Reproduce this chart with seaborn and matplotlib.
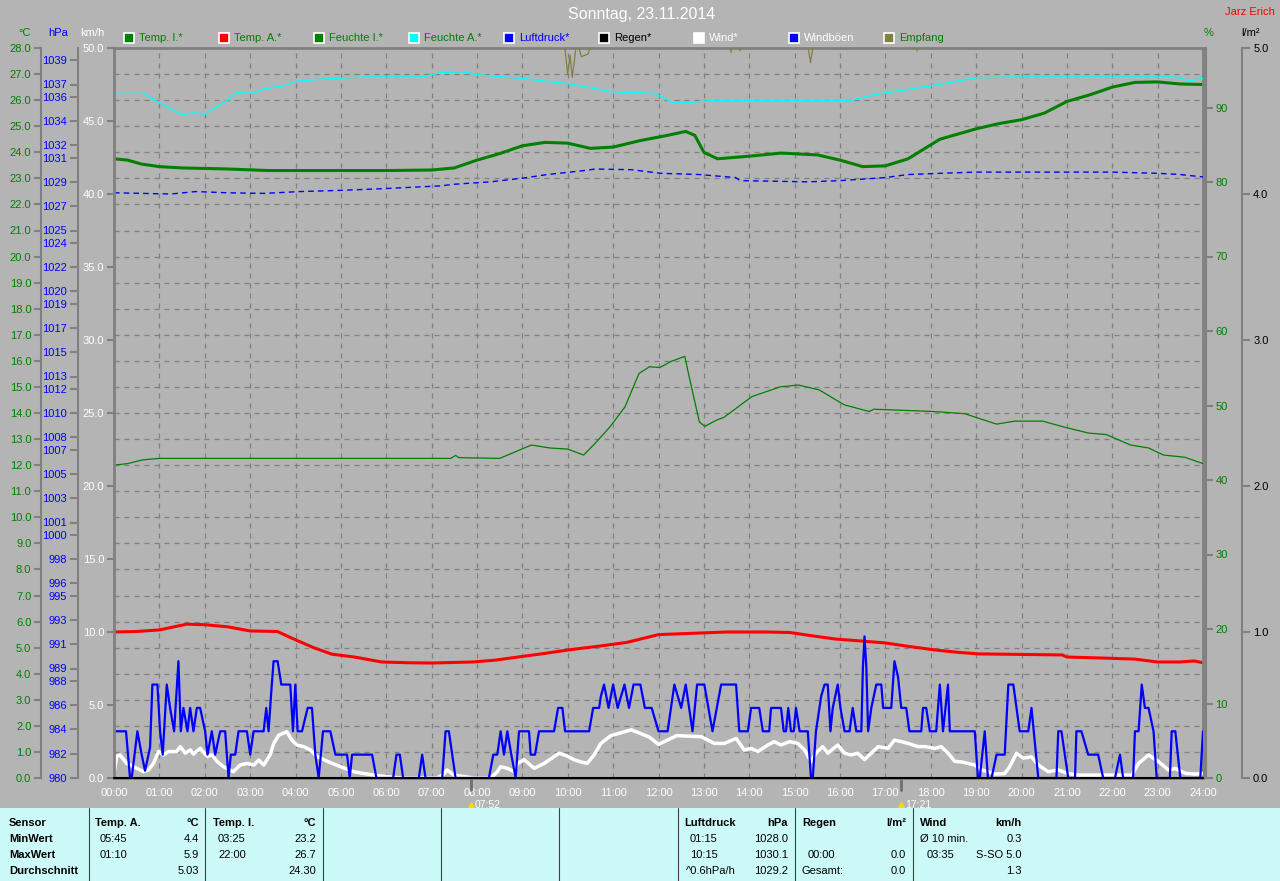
import matplotlib

matplotlib.use("Agg")
import matplotlib.pyplot as plt
import matplotlib.transforms as mtransforms
import seaborn as sns
from matplotlib.patches import Rectangle

W, H = 1280, 881
BG = "#b4b4b4"
TABLE_BG = "#ccfaf8"
GRID = "#808080"
GREEN = "#008000"
BLUE = "#0000ff"
RED = "#ff0000"
CYAN = "#00ffff"
OLIVE = "#808040"

HOURS = list(range(25))
HOUR_LABELS = [f"{h:02d}:00" for h in HOURS]

# Temp. I. (degC)
TEMP_I_T = [0, 0.3, 0.6, 1.0, 1.5, 2.5, 3.4, 4, 5, 6, 7, 7.5, 8, 8.5, 9.0, 9.5, 10.0, 10.5,
            11.0, 11.6, 12.2, 12.6, 12.8, 13.0, 13.3, 14.0, 14.7, 15.5, 16.0, 16.5, 17.0,
            17.5, 18.2, 19.0, 19.5, 20.0, 20.5, 21.0, 21.5, 22.0, 22.5, 23.0, 23.5, 24.0]
TEMP_I = [23.75, 23.7, 23.55, 23.45, 23.4, 23.36, 23.3, 23.3, 23.3, 23.3, 23.32, 23.4, 23.7,
          23.95, 24.25, 24.38, 24.35, 24.15, 24.2, 24.45, 24.65, 24.8, 24.65, 24.0, 23.75,
          23.85, 23.97, 23.9, 23.7, 23.45, 23.48, 23.75, 24.5, 24.9, 25.1, 25.25, 25.5, 25.95,
          26.2, 26.5, 26.68, 26.7, 26.62, 26.6]

# Temp. A. (degC)
TEMP_A_T = [0, 0.5, 1.0, 1.6, 2.0, 2.5, 3.0, 3.6, 4.0, 4.4, 4.8, 5.3, 5.9, 6.5, 7.0, 7.9, 8.4,
            8.9, 9.5, 10.0, 10.7, 11.3, 12.0, 12.9, 13.5, 14.4, 14.9, 15.4, 15.9, 16.5, 17.0,
            17.5, 18.1, 18.6, 19.05, 20.0, 20.9, 21.0, 21.8, 22.5, 23.0, 23.5, 23.8, 24.0]
TEMP_A = [5.6, 5.62, 5.68, 5.9, 5.88, 5.8, 5.64, 5.62, 5.3, 5.0, 4.75, 4.64, 4.45, 4.42, 4.41,
          4.45, 4.52, 4.64, 4.78, 4.91, 5.06, 5.2, 5.5, 5.56, 5.6, 5.6, 5.58, 5.45, 5.33, 5.25,
          5.18, 5.05, 4.91, 4.82, 4.76, 4.74, 4.72, 4.64, 4.6, 4.56, 4.45, 4.45, 4.49, 4.42]

# Feuchte I. (%)
HUM_I_T = [0, 0.3, 0.63, 1.0, 7.42, 7.53, 7.6, 8.5, 9.2, 9.6, 10.0, 10.35, 10.6, 10.94, 11.26,
           11.57, 11.8, 12.03, 12.27, 12.58, 12.66, 12.9, 13.02, 13.3, 13.44, 14.06, 14.68,
           15.08, 15.54, 16.09, 16.64, 16.75, 18.04, 18.75, 19.45, 19.85, 20.47, 20.94, 21.48,
           21.87, 22.4, 22.8, 23.13, 23.6, 24.0]
HUM_I = [42.0, 42.2, 42.7, 42.9, 42.9, 43.3, 43.0, 42.9, 44.7, 44.3, 44.15, 43.35, 44.9, 47.2,
         49.8, 54.3, 55.2, 55.1, 55.9, 56.6, 54.3, 47.8, 47.2, 48.1, 48.4, 51.2, 52.5, 52.75,
         52.1, 50.1, 49.2, 49.5, 49.2, 48.9, 47.5, 47.9, 47.9, 47.1, 46.3, 46.1, 44.7, 44.3,
         43.35, 43.05, 42.2]

# Feuchte A. (%)
HUM_A_T = [0, 0.65, 0.95, 1.3, 1.5, 1.75, 2.0, 2.2, 2.5, 2.7, 3.07, 3.3, 3.8, 4.0, 4.55, 5.5,
           6.8, 7.2, 7.7, 8.0, 9.0, 10.0, 11.0, 11.9, 12.27, 12.5, 13.1, 16.2, 16.75, 17.35,
           18.1, 19.0, 20.0, 23.4, 23.7, 24.0]
HUM_A = [91.9, 91.9, 90.8, 89.7, 89.0, 89.3, 89.1, 89.9, 91.0, 92.0, 91.9, 92.5, 93.0, 93.5,
         93.8, 94.1, 94.1, 94.7, 94.8, 94.4, 93.9, 93.2, 92.1, 91.9, 90.8, 90.6, 90.9, 90.9,
         91.7, 92.3, 93.0, 94.0, 94.1, 94.1, 93.6, 93.9]

# Luftdruck (hPa)
PRESS_T = [0, 1.25, 1.8, 2.5, 3.3, 4.1, 5.0, 6.0, 7.2, 7.5, 8.3, 9.0, 9.55, 10.3, 10.6, 11.4,
           12.05, 12.9, 13.7, 13.8, 15.3, 16.0, 17.0, 17.5, 18.2, 19.0, 20.0, 21.0, 22.0, 23.0,
           23.5, 24.0]
PRESS = [1028.1, 1028.0, 1028.2, 1028.1, 1028.05, 1028.2, 1028.3, 1028.45, 1028.67, 1028.8,
         1029.0, 1029.3, 1029.6, 1029.9, 1030.05, 1030.0, 1029.7, 1029.6, 1029.35, 1029.1,
         1029.0, 1029.1, 1029.35, 1029.6, 1029.7, 1029.8, 1029.8, 1029.8, 1029.8, 1029.7,
         1029.6, 1029.4]

# Regen (l/m2)
RAIN_T = [0, 24]
RAIN = [0.0, 0.0]

# Wind (km/h)
WIND_T = [0, 0.06, 0.13, 0.28, 0.43, 0.65, 0.76, 0.87, 0.98, 1.09, 1.2, 1.38, 1.46, 1.57, 1.68,
          1.75, 1.9, 2.05, 2.16, 2.27, 2.41, 2.63, 2.78, 2.93, 3.08, 3.19, 3.3, 3.44, 3.52, 3.63,
          3.81, 3.92, 4.03, 4.18, 4.33, 4.47, 4.7, 4.99, 5.28, 5.58, 5.87, 6.31, 7.12, 7.27,
          7.34, 7.49, 7.71, 7.93, 8.3, 8.45, 8.52, 8.67, 8.82, 8.89, 9.04, 9.26, 9.48, 9.81,
          10.0, 10.14, 10.29, 10.43, 10.58, 10.73, 10.95, 11.4, 11.8, 12.0, 12.4, 12.94, 13.23,
          13.45, 13.71, 13.89, 14.04, 14.19, 14.41, 14.55, 14.7, 14.89, 15.07, 15.22, 15.36,
          15.47, 15.62, 15.73, 15.95, 16.1, 16.25, 16.39, 16.54, 16.69, 16.84, 17.06, 17.2,
          17.35, 17.5, 17.72, 17.87, 18.09, 18.23, 18.38, 18.53, 18.68, 18.82, 18.97, 19.12,
          19.26, 19.41, 19.63, 19.74, 19.89, 20.04, 20.22, 20.37, 20.59, 20.81, 21.03, 21.25,
          21.77, 22.43, 22.58, 22.8, 23.02, 23.24, 23.39, 23.61, 23.83, 24.0]
WIND = [0.34, 1.48, 1.58, 1.0, 0.78, 0.43, 0.55, 1.0, 1.81, 1.58, 1.81, 1.81, 2.15, 1.7, 1.92,
        1.64, 2.03, 1.48, 1.58, 1.14, 0.78, 0.43, 0.89, 1.0, 0.89, 1.23, 0.89, 1.58, 2.37,
        2.94, 3.17, 2.6, 2.26, 2.15, 1.92, 1.48, 1.14, 0.78, 0.43, 0.27, 0.14, 0.0, 0.0, 0.27,
        0.55, 0.2, 0.1, 0.0, 0.0, 0.43, 0.78, 0.66, 0.43, 1.0, 1.25, 0.66, 1.0, 1.7, 1.48,
        1.25, 1.1, 1.0, 1.58, 2.37, 2.9, 3.3, 2.8, 2.3, 2.9, 2.83, 2.37, 2.37, 2.71, 1.92,
        2.03, 1.81, 2.26, 2.49, 2.26, 2.49, 2.37, 1.92, 1.12, 1.7, 2.15, 1.7, 2.26, 1.7, 1.58,
        1.7, 1.26, 1.7, 2.15, 2.03, 2.6, 2.49, 2.37, 2.15, 2.15, 2.03, 2.15, 1.7, 1.14, 1.1,
        1.0, 0.89, 0.55, 0.43, 0.27, 0.3, 0.78, 1.7, 1.36, 1.45, 0.89, 0.43, 0.55, 0.3, 0.2,
        0.2, 0.2, 1.0, 1.58, 1.12, 0.55, 0.65, 0.32, 0.27, 0.3]

# Windboeen (km/h)
GUST_T = [0.0, 0.265, 0.353, 0.39, 0.515, 0.61, 0.684, 0.795, 0.846, 0.957, 1.015, 1.074,
          1.163, 1.236, 1.325, 1.42, 1.472, 1.53, 1.619, 1.678, 1.751, 1.825, 1.898, 2.009,
          2.06, 2.156, 2.23, 2.34, 2.45, 2.524, 2.575, 2.671, 2.745, 2.929, 3.002, 3.076,
          3.297, 3.356, 3.407, 3.459, 3.517, 3.606, 3.687, 3.885, 3.944, 3.996, 4.047, 4.143,
          4.268, 4.363, 4.437, 4.511, 4.606, 4.768, 4.879, 5.136, 5.195, 5.247, 5.688, 5.784,
          6.152, 6.225, 6.299, 6.372, 6.718, 6.792, 6.865, 7.233, 7.307, 7.38, 7.528, 8.263,
          8.359, 8.447, 8.521, 8.594, 8.668, 8.756, 8.852, 8.926, 9.146, 9.183, 9.279, 9.367,
          9.698, 9.787, 9.882, 9.941, 10.471, 10.559, 10.692, 10.73, 10.8, 10.9, 11.0, 11.1,
          11.25, 11.35, 11.45, 11.6, 11.7, 11.85, 12.0, 12.2, 12.35, 12.5, 12.6, 12.75, 12.85,
          12.94, 13.01, 13.19, 13.38, 13.71, 13.78, 13.97, 14.04, 14.22, 14.3, 14.44, 14.48,
          14.7, 14.76, 14.81, 14.86, 14.92, 14.98, 15.03, 15.11, 15.29, 15.36, 15.4, 15.47,
          15.585, 15.66, 15.73, 15.79, 15.84, 15.95, 16.01, 16.1, 16.21, 16.28, 16.36, 16.47,
          16.505, 16.54, 16.58, 16.62, 16.69, 16.8, 16.91, 16.95, 17.13, 17.2, 17.28, 17.35,
          17.46, 17.53, 17.79, 17.83, 17.9, 17.98, 18.12, 18.2, 18.27, 18.38, 18.42, 18.97,
          19.04, 19.08, 19.19, 19.26, 19.34, 19.45, 19.63, 19.71, 19.82, 19.96, 20.15, 20.22,
          20.37, 20.77, 20.81, 20.88, 21.03, 21.18, 21.21, 21.32, 21.47, 21.69, 21.8, 22.06,
          22.17, 22.24, 22.46, 22.5, 22.58, 22.65, 22.72, 22.8, 22.91, 22.98, 23.27, 23.31,
          23.39, 23.5, 23.94, 24.0]
GUST = [3.2, 3.2, 0.0, 0.0, 3.2, 1.6, 0.5, 2.1, 6.4, 6.4, 3.2, 1.6, 6.4, 4.8, 3.2, 8.0, 3.2,
        4.8, 3.2, 4.8, 3.2, 4.8, 4.8, 3.2, 1.6, 3.2, 1.6, 3.2, 3.2, 0.0, 1.6, 1.6, 3.2, 3.2,
        1.6, 3.2, 3.2, 4.8, 3.2, 5.6, 8.0, 8.0, 6.4, 6.4, 3.2, 6.4, 3.2, 3.2, 4.8, 4.8, 1.6,
        0.0, 3.2, 3.2, 1.6, 1.6, 0.0, 1.6, 1.6, 0.0, 0.0, 1.6, 1.6, 0.0, 0.0, 1.6, 0.0, 0.0,
        3.2, 3.2, 0.0, 0.0, 1.6, 1.6, 3.2, 1.6, 3.2, 1.6, 0.0, 3.2, 3.2, 1.6, 1.6, 3.2, 3.2,
        4.8, 4.8, 3.2, 3.2, 4.8, 4.8, 5.6, 6.4, 4.8, 6.4, 4.8, 6.4, 4.8, 6.4, 6.4, 4.8, 4.8,
        3.2, 3.2, 6.4, 4.8, 6.4, 3.2, 6.4, 6.4, 6.4, 3.2, 6.4, 6.4, 3.2, 3.2, 4.8, 4.8, 3.2,
        3.2, 4.8, 4.8, 3.2, 3.2, 4.8, 3.2, 3.2, 4.8, 3.2, 3.2, 0.0, 0.0, 3.2, 5.6, 6.4, 6.4,
        3.2, 4.8, 6.4, 4.8, 3.2, 3.2, 4.8, 3.2, 3.2, 7.6, 9.7, 7.6, 3.2, 4.8, 6.4, 6.4, 4.8,
        4.8, 8.0, 6.9, 4.8, 4.8, 3.2, 3.2, 4.8, 4.8, 3.2, 3.2, 6.4, 3.2, 6.4, 3.2, 3.2, 0.0,
        0.0, 3.2, 0.0, 0.0, 1.6, 1.6, 6.4, 6.4, 3.2, 3.2, 4.8, 0.0, 0.0, 3.2, 3.2, 0.0, 0.0,
        3.2, 3.2, 1.6, 1.6, 0.0, 0.0, 1.6, 0.0, 0.0, 3.2, 3.2, 6.4, 4.8, 4.8, 3.2, 0.0, 0.0,
        3.2, 3.2, 0.0, 0.0, 3.2]

# Empfang (on km/h scale, mostly above the top edge)
RECV_T = [0, 9.9, 10.0, 10.05, 10.1, 10.2, 10.3, 10.45, 10.6, 13.55, 13.6, 13.65, 13.8,
          13.85, 15.25, 15.35, 15.45, 17.65, 17.7, 17.75, 24]
RECV = [51, 51, 48.2, 49.5, 48.0, 50.5, 49.4, 49.6, 51, 51, 49.7, 51, 49.8, 51, 51, 49.0, 51,
        51, 49.8, 51, 51]

HPA_TICKS = [980, 982, 984, 986, 988, 989, 991, 993, 995, 996, 998, 1000, 1001, 1003, 1005,
             1007, 1008, 1010, 1012, 1013, 1015, 1017, 1019, 1020, 1022, 1024, 1025, 1027,
             1029, 1031, 1032, 1034, 1036, 1037, 1039]

SUN_EVENTS = [(7 + 52 / 60, "07:52"), (17 + 21 / 60, "17:21")]

LEGEND = [
    ("Temp. I.*", GREEN, GREEN),
    ("Temp. A.*", RED, GREEN),
    ("Feuchte I.*", GREEN, GREEN),
    ("Feuchte A.*", CYAN, GREEN),
    ("Luftdruck*", BLUE, BLUE),
    ("Regen*", "black", "black"),
    ("Wind*", "white", "white"),
    ("Windböen", BLUE, "white"),
    ("Empfang", OLIVE, GREEN),
]

# table: (x px, row, text, align, bold)
TABLE_ROWS_Y = [823, 839, 855, 871]
TABLE_SEPARATORS = [89, 205, 323, 441, 559, 678, 795, 913]
TABLE_TEXT = [
    (9, 0, "Sensor", "left", True), (9, 1, "MinWert", "left", True),
    (9, 2, "MaxWert", "left", True), (9, 3, "Durchschnitt", "left", True),
    (95, 0, "Temp. A.", "left", True), (199, 0, "°C", "right", True),
    (100, 1, "05:45", "left", False), (199, 1, "4.4", "right", False),
    (100, 2, "01:10", "left", False), (199, 2, "5.9", "right", False),
    (199, 3, "5.03", "right", False),
    (213, 0, "Temp. I.", "left", True), (316, 0, "°C", "right", True),
    (218, 1, "03:25", "left", False), (316, 1, "23.2", "right", False),
    (218, 2, "22:00", "left", False), (316, 2, "26.7", "right", False),
    (316, 3, "24.30", "right", False),
    (684, 0, "Luftdruck", "left", True), (788, 0, "hPa", "right", True),
    (690, 1, "01:15", "left", False), (788, 1, "1028.0", "right", False),
    (690, 2, "10:15", "left", False), (788, 2, "1030.1", "right", False),
    (686, 3, "^0.6hPa/h", "left", False), (788, 3, "1029.2", "right", False),
    (802, 0, "Regen", "left", True), (906, 0, "l/m²", "right", True),
    (808, 2, "00:00", "left", False), (906, 2, "0.0", "right", False),
    (802, 3, "Gesamt:", "left", False), (906, 3, "0.0", "right", False),
    (920, 0, "Wind", "left", True), (1022, 0, "km/h", "right", True),
    (920, 1, "Ø 10 min.", "left", False), (1022, 1, "0.3", "right", False),
    (927, 2, "03:35", "left", False), (1022, 2, "S-SO 5.0", "right", False),
    (1022, 3, "1.3", "right", False),
]


def fx(x):
    return x / W


def fy(y):
    return 1 - y / H


def only_spine(a, side, pos, lw=1.5):
    for spine in a.spines.values():
        spine.set_visible(False)
    a.spines[side].set_visible(True)
    a.spines[side].set_position(("axes", pos))
    a.spines[side].set_color(GRID)
    a.spines[side].set_linewidth(lw)
    if side == "left":
        a.yaxis.tick_left()
    else:
        a.yaxis.tick_right()


def line(a, x, y, **kw):
    sns.lineplot(x=x, y=y, ax=a, estimator=None, sort=False, **kw)


def main():
    sns.set_style("white")
    plt.rcParams["font.family"] = ["Liberation Sans", "DejaVu Sans"]

    fig = plt.figure(figsize=(W / 100, H / 100), dpi=100, facecolor=BG)
    ax = fig.add_axes([fx(114), fy(778), 1089 / W, 730 / H])
    ax.set_facecolor(BG)

    # degC axis (host)
    ax.set_xlim(0, 24)
    ax.set_ylim(0, 28)
    ax.set_yticks(range(29))
    ax.set_yticklabels([f"{v:.1f}" for v in range(29)])
    ax.set_xticks(HOURS)
    ax.set_xticklabels(HOUR_LABELS)
    ax.tick_params(axis="y", labelcolor=GREEN, color=GRID, length=5, width=1.5, labelsize=8, pad=2)
    ax.tick_params(axis="x", labelcolor="white", color=GRID, length=4, labelsize=8, pad=3)
    ax.grid(True, color=GRID, linestyle=(0, (4, 4)), linewidth=0.9)
    for side in ("top", "right", "bottom"):
        ax.spines[side].set_color(GRID)
        ax.spines[side].set_linewidth(2)
    ax.spines["left"].set_position(("axes", -0.067))
    ax.spines["left"].set_color(GRID)
    ax.spines["left"].set_linewidth(1.5)

    line(ax, TEMP_A_T, TEMP_A, color=RED, linewidth=2.2)
    line(ax, TEMP_I_T, TEMP_I, color=GREEN, linewidth=2.2)

    # hPa axis
    ax_h = ax.twinx()
    only_spine(ax_h, "left", -0.0331)
    ax_h.set_ylim(980, 1040)
    ax_h.set_yticks(HPA_TICKS)
    ax_h.tick_params(axis="y", labelcolor=BLUE, color=GRID, length=6, width=1.5, labelsize=8, pad=2)
    line(ax_h, PRESS_T, PRESS, color=BLUE, linewidth=1.0, linestyle=(0, (4, 3)))

    # humidity axis
    ax_p = ax.twinx()
    only_spine(ax_p, "right", 1.0025)
    ax_p.set_ylim(0, 730 / 7.45)
    ax_p.set_yticks(range(0, 91, 10))
    ax_p.tick_params(axis="y", labelcolor=GREEN, color=GRID, length=5, width=1.5, labelsize=8, pad=2)
    line(ax_p, HUM_I_T, HUM_I, color=GREEN, linewidth=0.9)
    line(ax_p, HUM_A_T, HUM_A, color=CYAN, linewidth=1.0)

    # km/h axis (frame left side)
    ax_k = ax.twinx()
    only_spine(ax_k, "left", 0, lw=2)
    ax_k.set_ylim(0, 50)
    ax_k.set_yticks([v * 5 for v in range(11)])
    ax_k.set_yticklabels([f"{v * 5:.1f}" for v in range(11)])
    ax_k.tick_params(axis="y", labelcolor="white", color=GRID, length=5, width=1.5, labelsize=8, pad=2)
    line(ax_k, RECV_T, RECV, color=OLIVE, linewidth=0.9)
    line(ax_k, WIND_T, WIND, color="white", linewidth=2.5)
    line(ax_k, GUST_T, GUST, color=BLUE, linewidth=1.6)

    # rain axis
    ax_r = ax.twinx()
    only_spine(ax_r, "right", 1.0358)
    ax_r.set_ylim(0, 5)
    ax_r.set_yticks(range(6))
    ax_r.set_yticklabels([f"{v:.1f}" for v in range(6)])
    ax_r.tick_params(axis="y", labelcolor="black", color=GRID, length=6, width=1.5, labelsize=8, pad=2)
    line(ax_r, RAIN_T, RAIN, color="black", linewidth=1.5, clip_on=False)

    for a in (ax_h, ax_p, ax_k, ax_r):
        a.set_xlim(0, 24)
        a.set_xlabel("")
        a.set_ylabel("")
    ax.set_xlabel("")
    ax.set_ylabel("")

    # sunrise / sunset markers
    trans = mtransforms.blended_transform_factory(ax.transData, ax.transAxes)
    for t, label in SUN_EVENTS:
        ax.plot([t, t], [0, -0.016], color="#707070", linewidth=2, transform=trans, clip_on=False)
        ax.plot([t], [-0.0375], marker="^", color="#ffd800", markersize=4.5, transform=trans, clip_on=False)
        ax.text(t + 0.08, -0.0375, label, color="white", fontsize=7.5, va="center", ha="left",
                transform=trans)

    # titles and axis units
    fig.text(fx(642), fy(15), "Sonntag, 23.11.2014", color="white", fontsize=11.5, ha="center", va="center")
    fig.text(fx(1250), fy(12), "Jarz Erich", color=RED, fontsize=8, ha="center", va="center")
    for x, text, color in [(25, "°C", GREEN), (58, "hPa", BLUE), (92, "km/h", "white"),
                           (1209, "%", GREEN), (1250, "l/m²", "black")]:
        fig.text(fx(x), fy(33), text, color=color, fontsize=8, ha="center", va="center")

    # legend
    for i, (label, swatch, text_color) in enumerate(LEGEND):
        x0 = 124 + 95 * i
        fig.patches.append(Rectangle((fx(x0), fy(43)), 10 / W, 10 / H, transform=fig.transFigure,
                                     facecolor=swatch, edgecolor="white", linewidth=1.2))
        fig.text(fx(x0 + 15), fy(38), label, color=text_color, fontsize=8, ha="left", va="center")

    # summary table
    fig.patches.append(Rectangle((0, 0), 1, fy(808), transform=fig.transFigure,
                                 facecolor=TABLE_BG, edgecolor="none"))
    for x in TABLE_SEPARATORS:
        fig.lines.append(plt.Line2D([fx(x), fx(x)], [0, fy(808)], transform=fig.transFigure,
                                    color="#404040", linewidth=0.8))
    for x, row, text, align, bold in TABLE_TEXT:
        fig.text(fx(x), fy(TABLE_ROWS_Y[row]), text, color="black", fontsize=8, ha=align,
                 va="center", fontweight="bold" if bold else "normal")

    fig.savefig("out.png", dpi=100, facecolor=BG)


if __name__ == "__main__":
    main()
